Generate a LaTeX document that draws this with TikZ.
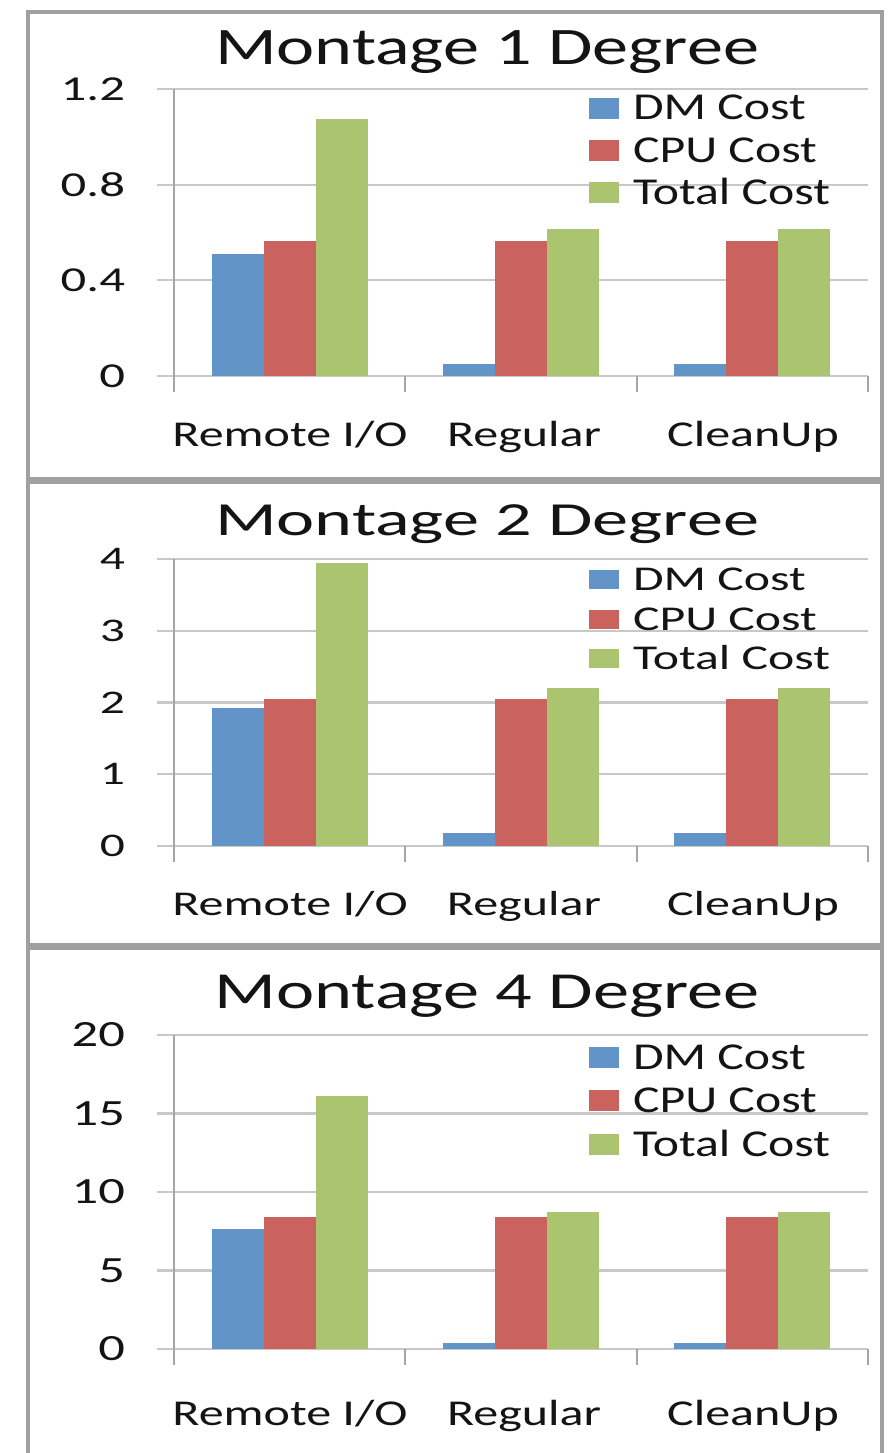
\documentclass[tikz,border=0pt]{standalone}
\usepackage{fontspec}
\setmainfont{Carlito}

\definecolor{dmblue}{RGB}{98,148,199}
\definecolor{cpured}{RGB}{202,98,94}
\definecolor{totgreen}{RGB}{170,196,111}
\definecolor{gridgray}{RGB}{200,200,200}
\definecolor{axisgray}{RGB}{165,165,165}
\definecolor{framegray}{RGB}{160,160,160}
\definecolor{inkgray}{RGB}{20,20,20}

% horizontally widened text: #1 stretch, #2 size in pt, #3 text
\newcommand\ctext[3]{\scalebox{#1}[1]{\fontsize{#2pt}{#2pt}\selectfont #3}}

\tikzset{
  lbl/.style={inner sep=0pt, outer sep=0pt, text=inkgray},
  frame/.style={draw=framegray, line width=4.5pt},
  gridline/.style={draw=gridgray, line width=2.2pt},
  axisline/.style={draw=axisgray, line width=2pt},
}

% bars of one chart: #1 zero line, #2 px per unit, #3 list c/dm/cpu/total
\newcommand\chartbars[3]{%
  \foreach \c/\d/\p/\t in {#3}{%
    \fill[dmblue]   ({\c-78},#1) rectangle ({\c-26},{#1-\d*#2});
    \fill[cpured]   ({\c-26},#1) rectangle ({\c+26},{#1-\p*#2});
    \fill[totgreen] ({\c+26},#1) rectangle ({\c+78},{#1-\t*#2});
  }%
}
% grid and axes: #1 zero line, #2 px per unit, #3 values of grid lines, #4 top
\newcommand\chartaxes[4]{%
  \foreach \v in {#3}{\draw[gridline] (157,{#1-\v*#2}) -- (868,{#1-\v*#2});}
  \draw[axisline] (174,#4) -- (174,{#1+16});
  \foreach \x in {405.3,636.7,868}{\draw[axisline] (\x,#1) -- (\x,{#1+16});}
}
% legend: #1 prefix, #2 stretch, #3 size, #4/#5/#6 baselines, #7 square height
\newcommand\chartlegend[7]{%
  \foreach \b/\col/\txt/\k in {#4/dmblue/DM Cost/1,#5/cpured/CPU Cost/2,#6/totgreen/Total Cost/3}{%
    \fill[\col] (589,{\b-1}) rectangle (619,{\b-1-#7});
    \node[lbl, anchor=base west] (#1-leg\k) at (633,\b) {\ctext{#2}{#3}{\txt}};
  }%
}
% category labels: #1 prefix, #2 stretch, #3 size, #4 baseline
\newcommand\chartcats[4]{%
  \node[lbl, anchor=base] (#1-cat1) at (290,#4) {\ctext{#2}{#3}{Remote I/O}};
  \node[lbl, anchor=base] (#1-cat2) at (524,#4) {\ctext{#2}{#3}{Regular}};
  \node[lbl, anchor=base] (#1-cat3) at (753,#4) {\ctext{#2}{#3}{CleanUp}};
}

\begin{document}
\begin{tikzpicture}[x=1pt, y=-1pt]
\useasboundingbox[fill=white] (0,0) rectangle (889,1453);

% ---------------- Montage 1 Degree ----------------
\draw[frame] (28,12) rectangle (882,479);
\chartaxes{376}{239.17}{0,0.4,0.8,1.2}{89}
\chartbars{376}{239.17}{289.7/0.51/0.565/1.075, 521/0.05/0.565/0.615, 752.3/0.05/0.565/0.615}
\node[lbl, anchor=base] (p1-title) at (487,65) {\ctext{1.37}{52.7}{Montage 1 Degree}};
\foreach \v/\s [count=\i] in {0/0, 0.4/0.4, 0.8/0.8, 1.2/1.2}
  \node[lbl, anchor=east] (p1-y\i) at (125,{376-\v*239.17}) {\ctext{1.45}{35}{\s}};
\chartcats{p1}{1.375}{36.4}{446}
\chartlegend{p1}{1.31}{38}{120}{162}{204}{21}

% ---------------- Montage 2 Degree ----------------
\draw[frame] (28,482) rectangle (882,945);
\chartaxes{846}{71.75}{0,1,2,3,4}{559}
\chartbars{846}{71.75}{289.7/1.92/2.05/3.95, 521/0.18/2.05/2.2, 752.3/0.18/2.05/2.2}
\node[lbl, anchor=base] (p2-title) at (487,535) {\ctext{1.52}{47.5}{Montage 2 Degree}};
\foreach \v [count=\i] in {0,1,2,3,4}
  \node[lbl, anchor=east] (p2-y\i) at (125,{846-\v*71.75}) {\ctext{1.5}{33}{\v}};
\chartcats{p2}{1.44}{34.8}{915}
\chartlegend{p2}{1.43}{34.8}{590}{630}{669}{19}

% ---------------- Montage 4 Degree ----------------
\draw[frame] (28,1453) -- (28,948) -- (882,948) -- (882,1453);
\chartaxes{1349}{15.7}{0,5,10,15,20}{1035}
\chartbars{1349}{15.7}{289.7/7.64/8.4/16.1, 521/0.38/8.4/8.73, 752.3/0.38/8.4/8.73}
\node[lbl, anchor=base] (p3-title) at (487,1008) {\ctext{1.39}{52}{Montage 4 Degree}};
\foreach \v [count=\i] in {0,5,10,15,20}
  \node[lbl, anchor=east] (p3-y\i) at (125,{1349-\v*15.7}) {\ctext{1.42}{37}{\v}};
\chartcats{p3}{1.375}{36.4}{1425}
\chartlegend{p3}{1.31}{38}{1069}{1112}{1156}{21}
\end{tikzpicture}
\end{document}
